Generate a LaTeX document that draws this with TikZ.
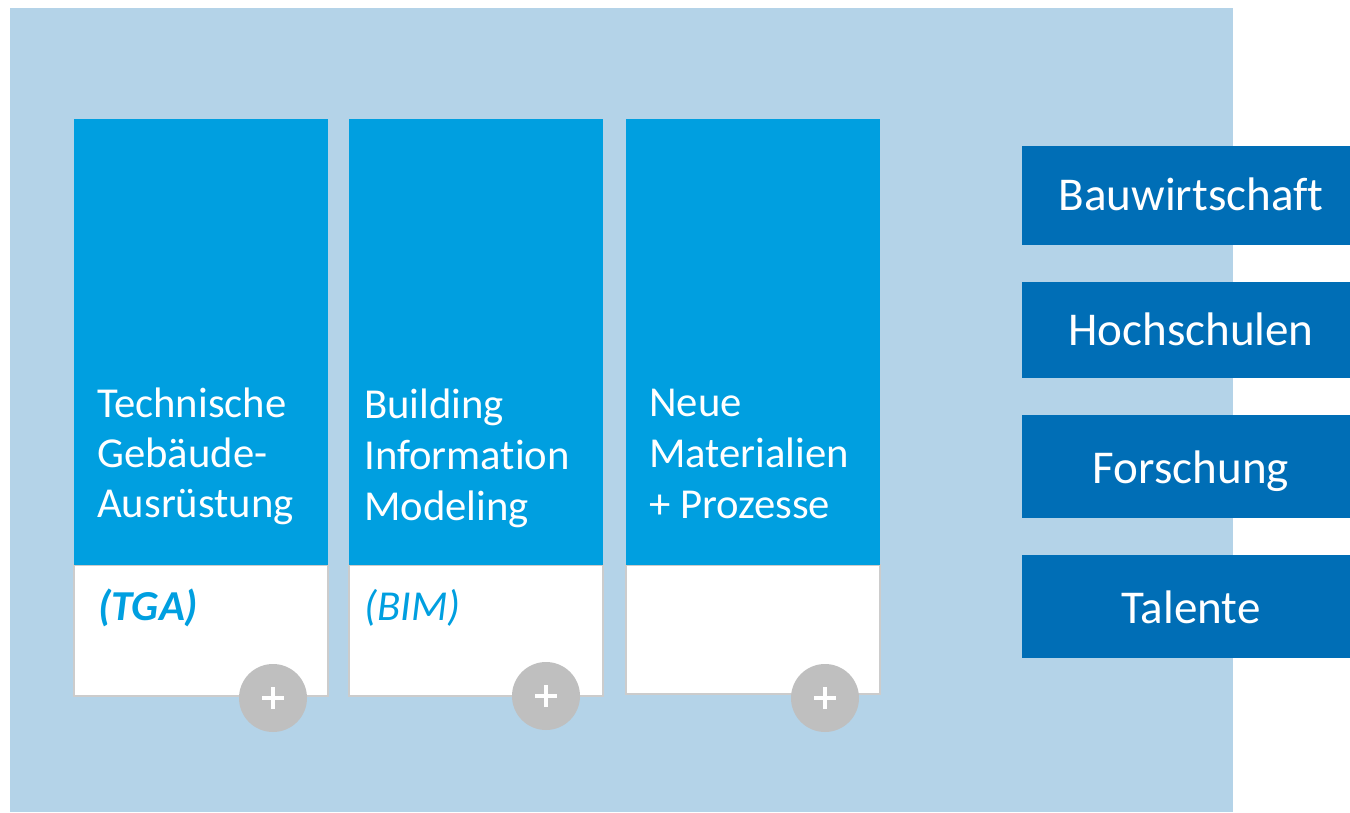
\documentclass[tikz,border=0pt]{standalone}
\usepackage{fontspec}
\setmainfont[Ligatures=NoCommon]{Carlito}
\definecolor{bgblue}{HTML}{B4D3E8}
\definecolor{colblue}{HTML}{009FE0}
\definecolor{boxblue}{HTML}{006EB6}
\definecolor{plusgrey}{HTML}{BFBFBF}
\definecolor{edgegrey}{HTML}{CCCCCC}
\begin{document}
\begin{tikzpicture}[x=0.75pt,y=-0.75pt,
  coltext/.style={anchor=base west,inner sep=0pt,text=white,font=\fontsize{32}{37.5}\selectfont,align=left},
  abbr/.style={anchor=base west,inner sep=0pt,text=colblue,font=\fontsize{32}{37.5}\selectfont\itshape},
  sidetext/.style={anchor=base,inner sep=0pt,text=white,font=\fontsize{35.3}{40}\selectfont},
  plusbtn/.style={circle,fill=plusgrey,minimum size=68*0.75pt,inner sep=0pt}]
\useasboundingbox (0,0) rectangle (1350,813);
\fill[white] (0,0) rectangle (1350,813);
\fill[bgblue] (10,8) rectangle (1233,812);
% columns
\foreach \xa/\xb/\yb in {74/328/696,349/603/696,626/880/694}{
  \filldraw[fill=white,draw=edgegrey,line width=0.9pt] (\xa,565) rectangle (\xb,\yb);
  \fill[colblue] (\xa,119) rectangle (\xb,565);
}
\node[coltext] (t1a) at (97,417) {Technische};
\node[coltext] (t1b) at (97,467) {Gebäude-};
\node[coltext] (t1c) at (97,517) {Ausrüstung};
\node[coltext] (t2a) at (364,418) {Building};
\node[coltext] (t2b) at (364,469) {Information};
\node[coltext] (t2c) at (364,520) {Modeling};
\node[coltext] (t3a) at (649,416) {Neue};
\node[coltext] (t3b) at (649,467) {Materialien};
\node[coltext] (t3c) at (649,518) {+ Prozesse};
\node[abbr,font=\fontsize{32}{37.5}\selectfont\bfseries\itshape] (a1) at (98,620) {(TGA)};
\node[abbr] (a2) at (364,620) {(BIM)};
% plus buttons
\foreach \n/\cx/\cy in {p1/273/698,p2/546/696,p3/825/698}{
  \node[plusbtn] (\n) at (\cx,\cy) {};
  \draw[white,line width=3pt] ([xshift=-8.25pt]\n.center) -- ([xshift=8.25pt]\n.center);
  \draw[white,line width=3pt] ([yshift=-8.25pt]\n.center) -- ([yshift=8.25pt]\n.center);
}
% side boxes
\fill[boxblue] (1022,146) rectangle (1350,245);
\fill[boxblue] (1022,282) rectangle (1350,378);
\fill[boxblue] (1022,415) rectangle (1350,518);
\fill[boxblue] (1022,555) rectangle (1350,658);
\node[sidetext] (s1) at (1191,211) {Bauwirtschaft};
\node[sidetext] (s2) at (1191,345) {Hochschulen};
\node[sidetext] (s3) at (1191,483) {Forschung};
\node[sidetext] (s4) at (1191,623) {Talente};
\end{tikzpicture}
\end{document}
